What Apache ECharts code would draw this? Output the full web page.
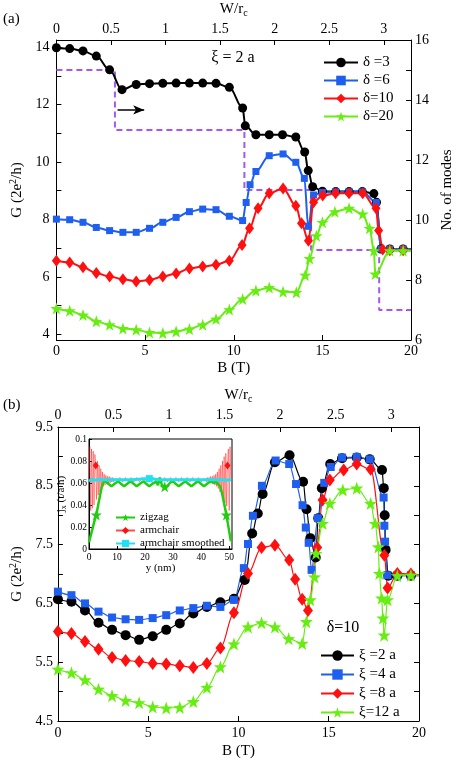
<!DOCTYPE html>
<html><head><meta charset="utf-8">
<script src="https://cdn.jsdelivr.net/npm/echarts@6/dist/echarts.min.js"></script>
<style>html,body{margin:0;padding:0;background:#fff}#c{width:463px;height:762px}</style>
</head><body><div id="c"></div>
<script>
const FONT = '"Liberation Serif", "Times New Roman", Times, serif';

// ---------- tick values ----------
const bTicks = [0, 5, 10, 15, 20];
const wTicks = [0, 0.5, 1, 1.5, 2, 2.5, 3];
const gaLabels = [4, 6, 8, 10, 12, 14];
const gaTicks = [4, 5, 6, 7, 8, 9, 10, 11, 12, 13, 14];
const modeLabels = [6, 8, 10, 12, 14, 16];
const modeTicks = [6, 7, 8, 9, 10, 11, 12, 13, 14, 15, 16];
const gbLabels = [4.5, 5.5, 6.5, 7.5, 8.5, 9.5];
const gbTicks = [4.5, 5, 5.5, 6, 6.5, 7, 7.5, 8, 8.5, 9, 9.5];
const insetXTicks = [0, 10, 20, 30, 40, 50];
const insetYTicks = [0, 0.02, 0.04, 0.06, 0.08, 0.1];

// ---------- panel (a): xi = 2a ----------
const d3B = [0, 0.75, 1.5, 2.25, 3.0, 3.7, 4.5, 5.25, 6.0, 6.75, 7.5, 8.25, 9.0, 9.75, 10.5, 10.65, 11.25, 12.0, 12.75, 13.5, 14.0, 14.2, 14.45, 15.0, 15.75, 16.5, 17.25, 17.9, 18.05, 18.3, 18.8, 19.55, 20];
const d3G = [13.98, 13.95, 13.87, 13.69, 13.21, 12.52, 12.7, 12.73, 12.74, 12.75, 12.75, 12.75, 12.74, 12.6, 11.88, 11.26, 10.95, 10.95, 10.95, 10.87, 10.35, 9.7, 9.14, 8.98, 8.97, 8.97, 8.97, 8.9, 8.6, 6.97, 6.97, 6.97, 6.97];
const d6B = [0, 0.75, 1.5, 2.25, 3.0, 3.75, 4.5, 5.25, 6.0, 6.75, 7.5, 8.25, 9.0, 9.75, 10.5, 10.7, 10.92, 11.25, 12.0, 12.78, 13.5, 13.98, 14.2, 14.5, 15.0, 15.75, 16.5, 17.25, 18.04, 18.3, 18.8, 19.55, 20];
const d6G = [8.01, 7.99, 7.9, 7.72, 7.61, 7.55, 7.55, 7.69, 7.9, 8.07, 8.27, 8.36, 8.34, 8.11, 7.96, 8.59, 9.21, 9.67, 10.22, 10.28, 9.99, 9.43, 7.76, 8.85, 8.94, 8.96, 8.96, 8.96, 8.59, 6.97, 6.97, 6.97, 6.97];
const d10B = [0, 0.75, 1.5, 2.25, 3.0, 3.75, 4.5, 5.25, 6.0, 6.75, 7.5, 8.25, 9.0, 9.75, 10.47, 10.89, 11.37, 12.0, 12.78, 13.5, 13.82, 14.21, 14.5, 15.02, 15.74, 16.5, 17.27, 18.02, 18.17, 18.4, 18.8, 19.55, 20];
const d10G = [6.56, 6.5, 6.33, 6.13, 6.01, 5.92, 5.84, 5.89, 6.01, 6.12, 6.29, 6.36, 6.42, 6.56, 7.11, 7.69, 8.39, 8.91, 9.08, 8.48, 7.87, 7.26, 8.6, 8.83, 8.91, 8.91, 8.91, 8.39, 7.61, 6.95, 6.93, 6.93, 6.93];
const d20B = [0, 0.75, 1.5, 2.25, 3.0, 3.75, 4.5, 5.25, 6.0, 6.75, 7.5, 8.25, 9.0, 9.75, 10.5, 11.25, 12.0, 12.78, 13.53, 14.03, 14.27, 14.66, 15.0, 15.7, 16.5, 17.27, 17.66, 17.9, 17.98, 18.8, 19.55, 20];
const d20G = [4.9, 4.82, 4.67, 4.45, 4.33, 4.2, 4.16, 4.06, 4.04, 4.1, 4.18, 4.33, 4.53, 4.86, 5.23, 5.52, 5.63, 5.48, 5.46, 6.06, 6.64, 7.43, 7.9, 8.27, 8.39, 8.19, 7.69, 6.91, 6.1, 6.91, 6.91, 6.91];
// number of modes (right axis)
const modeB = [0, 3.3, 10.6, 14.36, 18.2, 20];
const modeN = [15, 13, 11, 9, 7, 7];
const arrowFrom = [3.45, 13.67];
const arrowTo = [4.95, 13.67];

// ---------- panel (b): delta = 10 ----------
const x2B = [0, 0.75, 1.5, 2.25, 3.0, 3.75, 4.5, 5.25, 6.0, 6.75, 7.5, 8.25, 9.0, 9.75, 10.35, 10.76, 11.07, 11.34, 12.02, 12.83, 13.58, 13.77, 13.98, 14.28, 14.42, 14.62, 15.08, 15.74, 16.55, 17.27, 17.95, 18.05, 18.1, 18.15, 18.3, 18.8, 19.55, 20];
const x2G = [6.57, 6.53, 6.38, 6.17, 6.05, 5.96, 5.88, 5.94, 6.05, 6.16, 6.33, 6.44, 6.52, 6.58, 6.9, 7.69, 8.03, 8.36, 8.9, 9.02, 8.57, 8.1, 7.61, 7.28, 7.95, 8.46, 8.87, 8.97, 8.98, 8.95, 8.77, 8.46, 8.0, 7.41, 6.97, 6.97, 6.97, 6.97];
const x4B = [0, 0.75, 1.5, 2.25, 3.0, 3.75, 4.5, 5.25, 6.0, 6.75, 7.5, 8.25, 9.0, 9.75, 10.3, 10.53, 10.8, 11.3, 12.06, 12.81, 13.19, 13.55, 13.73, 13.89, 14.05, 14.4, 14.75, 15.11, 15.74, 16.55, 17.27, 18.04, 18.08, 18.12, 18.25, 18.8, 19.55, 20];
const x4G = [6.7, 6.64, 6.5, 6.36, 6.26, 6.23, 6.22, 6.25, 6.3, 6.38, 6.42, 6.46, 6.44, 6.56, 7.1, 7.51, 7.99, 8.5, 8.93, 8.87, 8.53, 8.17, 7.79, 7.53, 7.07, 7.95, 8.55, 8.82, 8.98, 8.99, 8.95, 8.3, 7.82, 7.55, 6.98, 6.98, 6.98, 6.98];
const x8B = [0, 0.75, 1.5, 2.25, 3.0, 3.75, 4.5, 5.25, 6.0, 6.75, 7.5, 8.25, 9.0, 9.75, 10.53, 11.28, 12.02, 12.81, 13.14, 13.53, 13.85, 14.36, 14.66, 15.06, 15.83, 16.55, 17.32, 18.08, 18.26, 18.8, 19.55, 20];
const x8G = [6.02, 5.99, 5.85, 5.72, 5.58, 5.53, 5.51, 5.48, 5.47, 5.44, 5.41, 5.48, 5.74, 6.34, 7.01, 7.45, 7.49, 7.24, 6.91, 6.57, 6.38, 7.45, 8.26, 8.6, 8.77, 8.87, 8.78, 7.32, 6.76, 7.01, 7.0, 6.99];
const x12B = [0, 0.75, 1.5, 2.25, 3.0, 3.75, 4.5, 5.25, 6.0, 6.75, 7.5, 8.25, 9.0, 9.75, 10.53, 11.28, 12.02, 12.78, 13.53, 13.76, 13.98, 14.21, 14.3, 14.66, 15.06, 15.78, 16.55, 17.32, 17.57, 17.75, 17.8, 17.93, 18.0, 18.07, 18.26, 18.8, 19.55, 20];
const x12G = [5.38, 5.32, 5.2, 5.04, 4.93, 4.85, 4.81, 4.74, 4.72, 4.73, 4.83, 5.07, 5.42, 5.81, 6.1, 6.17, 6.1, 5.9, 5.82, 6.19, 6.56, 6.95, 7.35, 7.86, 8.2, 8.43, 8.46, 8.2, 7.86, 7.46, 7.01, 6.59, 6.25, 5.96, 6.56, 6.97, 6.98, 6.98];

// ---------- inset: current density ----------
const zigY = [0, 1, 2, 2.6, 3.5, 4.5, 5.2, 6, 7, 8, 9.5, 10.5, 11.5, 12.5, 14, 15, 16, 17, 18.5, 19.5, 20.5, 21.5, 23, 24, 24.6, 25.3, 26, 27, 28, 29, 30, 31, 32, 33.5, 34.5, 35.5, 36.5, 38, 39, 40, 41, 42.5, 43.5, 44.5, 45.3, 46, 46.8, 47.5, 48.3, 49, 50, 50.6];
const zigJ = [0.006, 0.016, 0.026, 0.031, 0.043, 0.056, 0.061, 0.0615, 0.059, 0.057, 0.06, 0.0615, 0.059, 0.057, 0.06, 0.0615, 0.059, 0.057, 0.06, 0.0615, 0.059, 0.057, 0.06, 0.061, 0.058, 0.065, 0.058, 0.0565, 0.0575, 0.0605, 0.0615, 0.059, 0.057, 0.06, 0.0615, 0.059, 0.057, 0.06, 0.0615, 0.059, 0.057, 0.06, 0.0615, 0.06, 0.061, 0.0605, 0.057, 0.05, 0.04, 0.031, 0.016, 0.007];
const zigMarks = [2.6, 27, 49];
const armY = [0, 0.3, 0.6, 0.9, 1.2, 1.5, 1.8, 2.1, 2.4, 2.7, 3.0, 3.3, 3.6, 3.9, 4.2, 4.5, 4.8, 5.1, 5.4, 5.7, 6.0, 6.3, 6.6, 6.9, 7.2, 7.5, 7.8, 8.1, 8.4, 8.7, 9.0, 9.3, 9.6, 9.9,
  11, 12, 13, 14, 15, 16, 17, 18, 19, 20, 21, 22, 23, 24, 25, 26, 27, 28, 29, 30, 31, 32, 33, 34, 35, 36, 37, 38, 39, 40,
  40.7, 41.0, 41.3, 41.6, 41.9, 42.2, 42.5, 42.8, 43.1, 43.4, 43.7, 44.0, 44.3, 44.6, 44.9, 45.2, 45.5, 45.8, 46.1, 46.4, 46.7, 47.0, 47.3, 47.6, 47.9, 48.2, 48.5, 48.8, 49.1, 49.4, 49.7, 50.0, 50.3, 50.6];
const armJ = [0.062, 0.093, 0.035, 0.091, 0.037, 0.089, 0.040, 0.086, 0.076, 0.045, 0.080, 0.049, 0.076, 0.052, 0.073, 0.055, 0.070, 0.057, 0.068, 0.058, 0.067, 0.059, 0.066, 0.060, 0.066, 0.060, 0.065, 0.061, 0.065, 0.061, 0.064, 0.062, 0.064, 0.062,
  0.065, 0.061, 0.065, 0.061, 0.065, 0.061, 0.065, 0.061, 0.065, 0.061, 0.065, 0.061, 0.065, 0.061, 0.065, 0.061, 0.065, 0.061, 0.065, 0.061, 0.065, 0.061, 0.065, 0.061, 0.065, 0.061, 0.065, 0.061, 0.065, 0.061,
  0.062, 0.064, 0.062, 0.064, 0.061, 0.065, 0.061, 0.065, 0.060, 0.066, 0.060, 0.066, 0.059, 0.067, 0.058, 0.068, 0.057, 0.070, 0.055, 0.073, 0.052, 0.076, 0.049, 0.080, 0.045, 0.084, 0.042, 0.087, 0.039, 0.076, 0.091, 0.035, 0.093, 0.062];
const armMarks = [2.4, 49.4];
const smY = [0, 0.5, 1, 1.5, 2, 3, 4, 5, 6, 8, 10, 15, 21.5, 25, 30, 35, 40, 44, 46, 48, 49, 49.5, 50, 50.6];
const smJ = [0.0615, 0.063, 0.0635, 0.063, 0.0625, 0.063, 0.0635, 0.063, 0.063, 0.063, 0.063, 0.063, 0.064, 0.063, 0.063, 0.063, 0.063, 0.063, 0.063, 0.063, 0.0625, 0.0635, 0.063, 0.062];
const smMarks = [21.5];

// ---------- styles ----------
const BLACK = '#000000', BLUE = '#1f5ff0', RED = '#ff1010', GREEN = '#66ee10', PURPLE = '#a457f2', CYAN = '#22e0f0';
const STAR = 'path://M0,-10L2.35,-3.24L9.51,-3.09L3.8,1.24L5.88,8.09L0,4L-5.88,8.09L-3.8,1.24L-9.51,-3.09L-2.35,-3.24Z';

function axis(o) {
  const base = {
    type: 'value',
    axisLine: { show: true, onZero: false, lineStyle: { color: '#000', width: 1 } },
    axisTick: { show: true, inside: true, length: 5, lineStyle: { color: '#000', width: 1 } },
    axisLabel: { show: true, color: '#000', fontFamily: FONT, fontSize: 14 },
    splitLine: { show: false },
    nameTextStyle: { color: '#000', fontFamily: FONT, fontSize: 15,
      rich: { sup: { fontSize: 10, verticalAlign: 'top', fontFamily: FONT, color: '#000', lineHeight: 12 },
              sub: { fontSize: 10, verticalAlign: 'bottom', fontFamily: FONT, color: '#000', lineHeight: 10 },
              n: { fontSize: 15, fontFamily: FONT, color: '#000', lineHeight: 18 } } }
  };
  for (const k in o) {
    if (o[k] && typeof o[k] === 'object' && !Array.isArray(o[k]) && base[k] && typeof base[k] === 'object') base[k] = Object.assign({}, base[k], o[k]);
    else base[k] = o[k];
  }
  return base;
}

function mk(name, B, G, xi, yi, color, symbol, size, lw) {
  return {
    name, type: 'line', xAxisIndex: xi, yAxisIndex: yi, smooth: 0.35, smoothMonotone: 'x',
    data: B.map((b, i) => b >= 20 ? { value: [b, G[i]], symbol: 'none' } : [b, G[i]]),
    symbol, symbolSize: size, showSymbol: true,
    lineStyle: { color, width: lw }, itemStyle: { color, borderWidth: 0 },
    emphasis: { disabled: true }
  };
}

function mkInset(name, X, Y, marks, color, symbol, size, lw, opacity) {
  return {
    name, type: 'line', xAxisIndex: 4, yAxisIndex: 4, smooth: false,
    data: X.map((x, i) => marks.indexOf(x) >= 0 ? [x, Y[i]] : { value: [x, Y[i]], symbol: 'none' }),
    symbol, symbolSize: size, showSymbol: true,
    lineStyle: { color, width: lw, opacity: opacity }, itemStyle: { color, borderWidth: 0 },
    emphasis: { disabled: true }
  };
}

const chart = echarts.init(document.getElementById('c'), null, { renderer: 'canvas' });
const option = {
  animation: false,
  backgroundColor: '#fff',
  textStyle: { fontFamily: FONT },
  grid: [
    { left: 48, top: 40, width: 371, height: 300, show: false },
    { left: 48, top: 427, width: 371, height: 294, show: false },
    { left: 89, top: 439, width: 143, height: 110, show: true, borderColor: '#000', borderWidth: 1, backgroundColor: 'transparent' }
  ],
  xAxis: [
    axis({ gridIndex: 0, position: 'bottom', min: 0, max: 20, name: 'B (T)', nameLocation: 'middle', nameGap: 21,
      axisLabel: { customValues: bTicks, margin: 4 }, axisTick: { customValues: bTicks } }),
    axis({ gridIndex: 0, position: 'top', min: 0, max: 3.25, name: '{n|W/r}{sub|c}', nameLocation: 'middle', nameGap: 22,
      axisLabel: { customValues: wTicks, margin: 4 }, axisTick: { customValues: wTicks } }),
    axis({ gridIndex: 1, position: 'bottom', min: 0, max: 20, name: 'B (T)', nameLocation: 'middle', nameGap: 23,
      axisLabel: { customValues: bTicks, margin: 5 }, axisTick: { customValues: bTicks } }),
    axis({ gridIndex: 1, position: 'top', min: 0, max: 3.25, name: '{n|W/r}{sub|c}', nameLocation: 'middle', nameGap: 23,
      axisLabel: { customValues: wTicks, margin: 5 }, axisTick: { customValues: wTicks } }),
    axis({ gridIndex: 2, position: 'bottom', min: 0, max: 51, name: 'y (nm)', nameLocation: 'middle', nameGap: 14,
      nameTextStyle: { color: '#000', fontFamily: FONT, fontSize: 11 },
      axisLabel: { customValues: insetXTicks, margin: 3, fontSize: 9.5 }, axisTick: { customValues: insetXTicks, length: 3 } })
  ],
  yAxis: [
    axis({ gridIndex: 0, position: 'left', min: 3.8, max: 14.25, name: '{n|G (2e}{sup|2}{n|/h)}', nameLocation: 'middle', nameGap: 24, nameRotate: 90,
      axisLabel: { customValues: gaLabels, margin: 7 }, axisTick: { customValues: gaTicks } }),
    axis({ gridIndex: 0, position: 'right', min: 6, max: 16, name: 'No. of modes', nameLocation: 'middle', nameGap: 22, nameRotate: 90,
      axisLabel: { customValues: modeLabels, margin: 4 }, axisTick: { customValues: modeTicks } }),
    axis({ gridIndex: 1, position: 'left', min: 4.5, max: 9.5, name: '{n|G (2e}{sup|2}{n|/h)}', nameLocation: 'middle', nameGap: 30, nameRotate: 90,
      axisLabel: { customValues: gbLabels, margin: 5 }, axisTick: { customValues: gbTicks } }),
    axis({ gridIndex: 1, position: 'right', min: 4.5, max: 9.5,
      axisLabel: { show: false }, axisTick: { customValues: gbTicks } }),
    axis({ gridIndex: 2, position: 'left', min: 0, max: 0.1,
      axisLabel: { customValues: insetYTicks, margin: 2, fontSize: 9.5 }, axisTick: { customValues: insetYTicks, length: 3 } })
  ],
  legend: [
    { data: ['δ =3', 'δ =6', 'δ=10', 'δ=20'], orient: 'vertical', left: 318, top: 50, itemWidth: 34, itemHeight: 12, itemGap: 3,
      textStyle: { fontFamily: FONT, fontSize: 15, color: '#000', lineHeight: 15 }, selectedMode: false },
    { data: ['ξ =2 a', 'ξ =4 a', 'ξ =8 a', 'ξ=12 a'], orient: 'vertical', left: 315, top: 643, itemWidth: 33, itemHeight: 13, itemGap: 4,
      textStyle: { fontFamily: FONT, fontSize: 15, color: '#000', lineHeight: 15 }, selectedMode: false },
    { data: ['zigzag', 'armchair', 'armchair smoothed'], orient: 'vertical', left: 110, top: 507, itemWidth: 19, itemHeight: 9, itemGap: 2,
      textStyle: { fontFamily: FONT, fontSize: 11, color: '#000', lineHeight: 10 }, selectedMode: false }
  ],
  graphic: [
    { type: 'text', left: 3, top: 12, style: { text: '(a)', fontFamily: FONT, fontSize: 15, fill: '#000' } },
    { type: 'text', left: 3, top: 398, style: { text: '(b)', fontFamily: FONT, fontSize: 15, fill: '#000' } },
    { type: 'text', x: 233, y: 58, style: { text: 'ξ = 2 a', fontFamily: FONT, fontSize: 16, fill: '#000', align: 'center', verticalAlign: 'middle' } },
    { type: 'text', x: 343, y: 628, style: { text: 'δ=10', fontFamily: FONT, fontSize: 16, fill: '#000', align: 'center', verticalAlign: 'middle' } },
    { type: 'text', x: 61, y: 494, rotation: Math.PI / 2, z: 100,
      style: { text: '{m|j}{s|x}{m| (t/a h)}', align: 'center', verticalAlign: 'middle', fill: '#000',
        rich: { m: { fontSize: 11, fontFamily: FONT, fill: '#000', lineHeight: 14 },
                s: { fontSize: 8, fontFamily: FONT, fill: '#000', verticalAlign: 'bottom', lineHeight: 8 } } } }
  ],
  series: [
    {
      name: 'modes', type: 'line', xAxisIndex: 0, yAxisIndex: 1, step: 'end',
      data: modeB.map((b, i) => [b, modeN[i]]), symbol: 'none',
      lineStyle: { color: PURPLE, width: 2, type: [6, 4] }, emphasis: { disabled: true },
      markLine: { silent: true, symbol: ['none', 'arrow'], symbolSize: [7, 11], label: { show: false },
        lineStyle: { color: '#000', type: 'solid', width: 1.5 },
        data: [[{ coord: arrowFrom }, { coord: arrowTo }]] }
    },
    mk('δ =3', d3B, d3G, 0, 0, BLACK, 'circle', 9, 2),
    mk('δ =6', d6B, d6G, 0, 0, BLUE, 'rect', 7, 2),
    mk('δ=10', d10B, d10G, 0, 0, RED, 'diamond', [9, 12], 2),
    mk('δ=20', d20B, d20G, 0, 0, GREEN, STAR, 12, 2),
    mk('ξ =2 a', x2B, x2G, 2, 2, BLACK, 'circle', 10, 1.2),
    mk('ξ =4 a', x4B, x4G, 2, 2, BLUE, 'rect', 8, 1.2),
    mk('ξ =8 a', x8B, x8G, 2, 2, RED, 'diamond', [10, 13], 1.2),
    mk('ξ=12 a', x12B, x12G, 2, 2, GREEN, STAR, 13, 1.2),
    mkInset('armchair', armY, armJ, armMarks, RED, 'diamond', [6, 8], 0.6, 0.75),
    mkInset('zigzag', zigY, zigJ, zigMarks, '#22cc10', STAR, 11, 2.5, 1),
    mkInset('armchair smoothed', smY, smJ, smMarks, CYAN, 'rect', 7, 3, 1)
  ]
};
chart.setOption(option);
</script></body></html>
